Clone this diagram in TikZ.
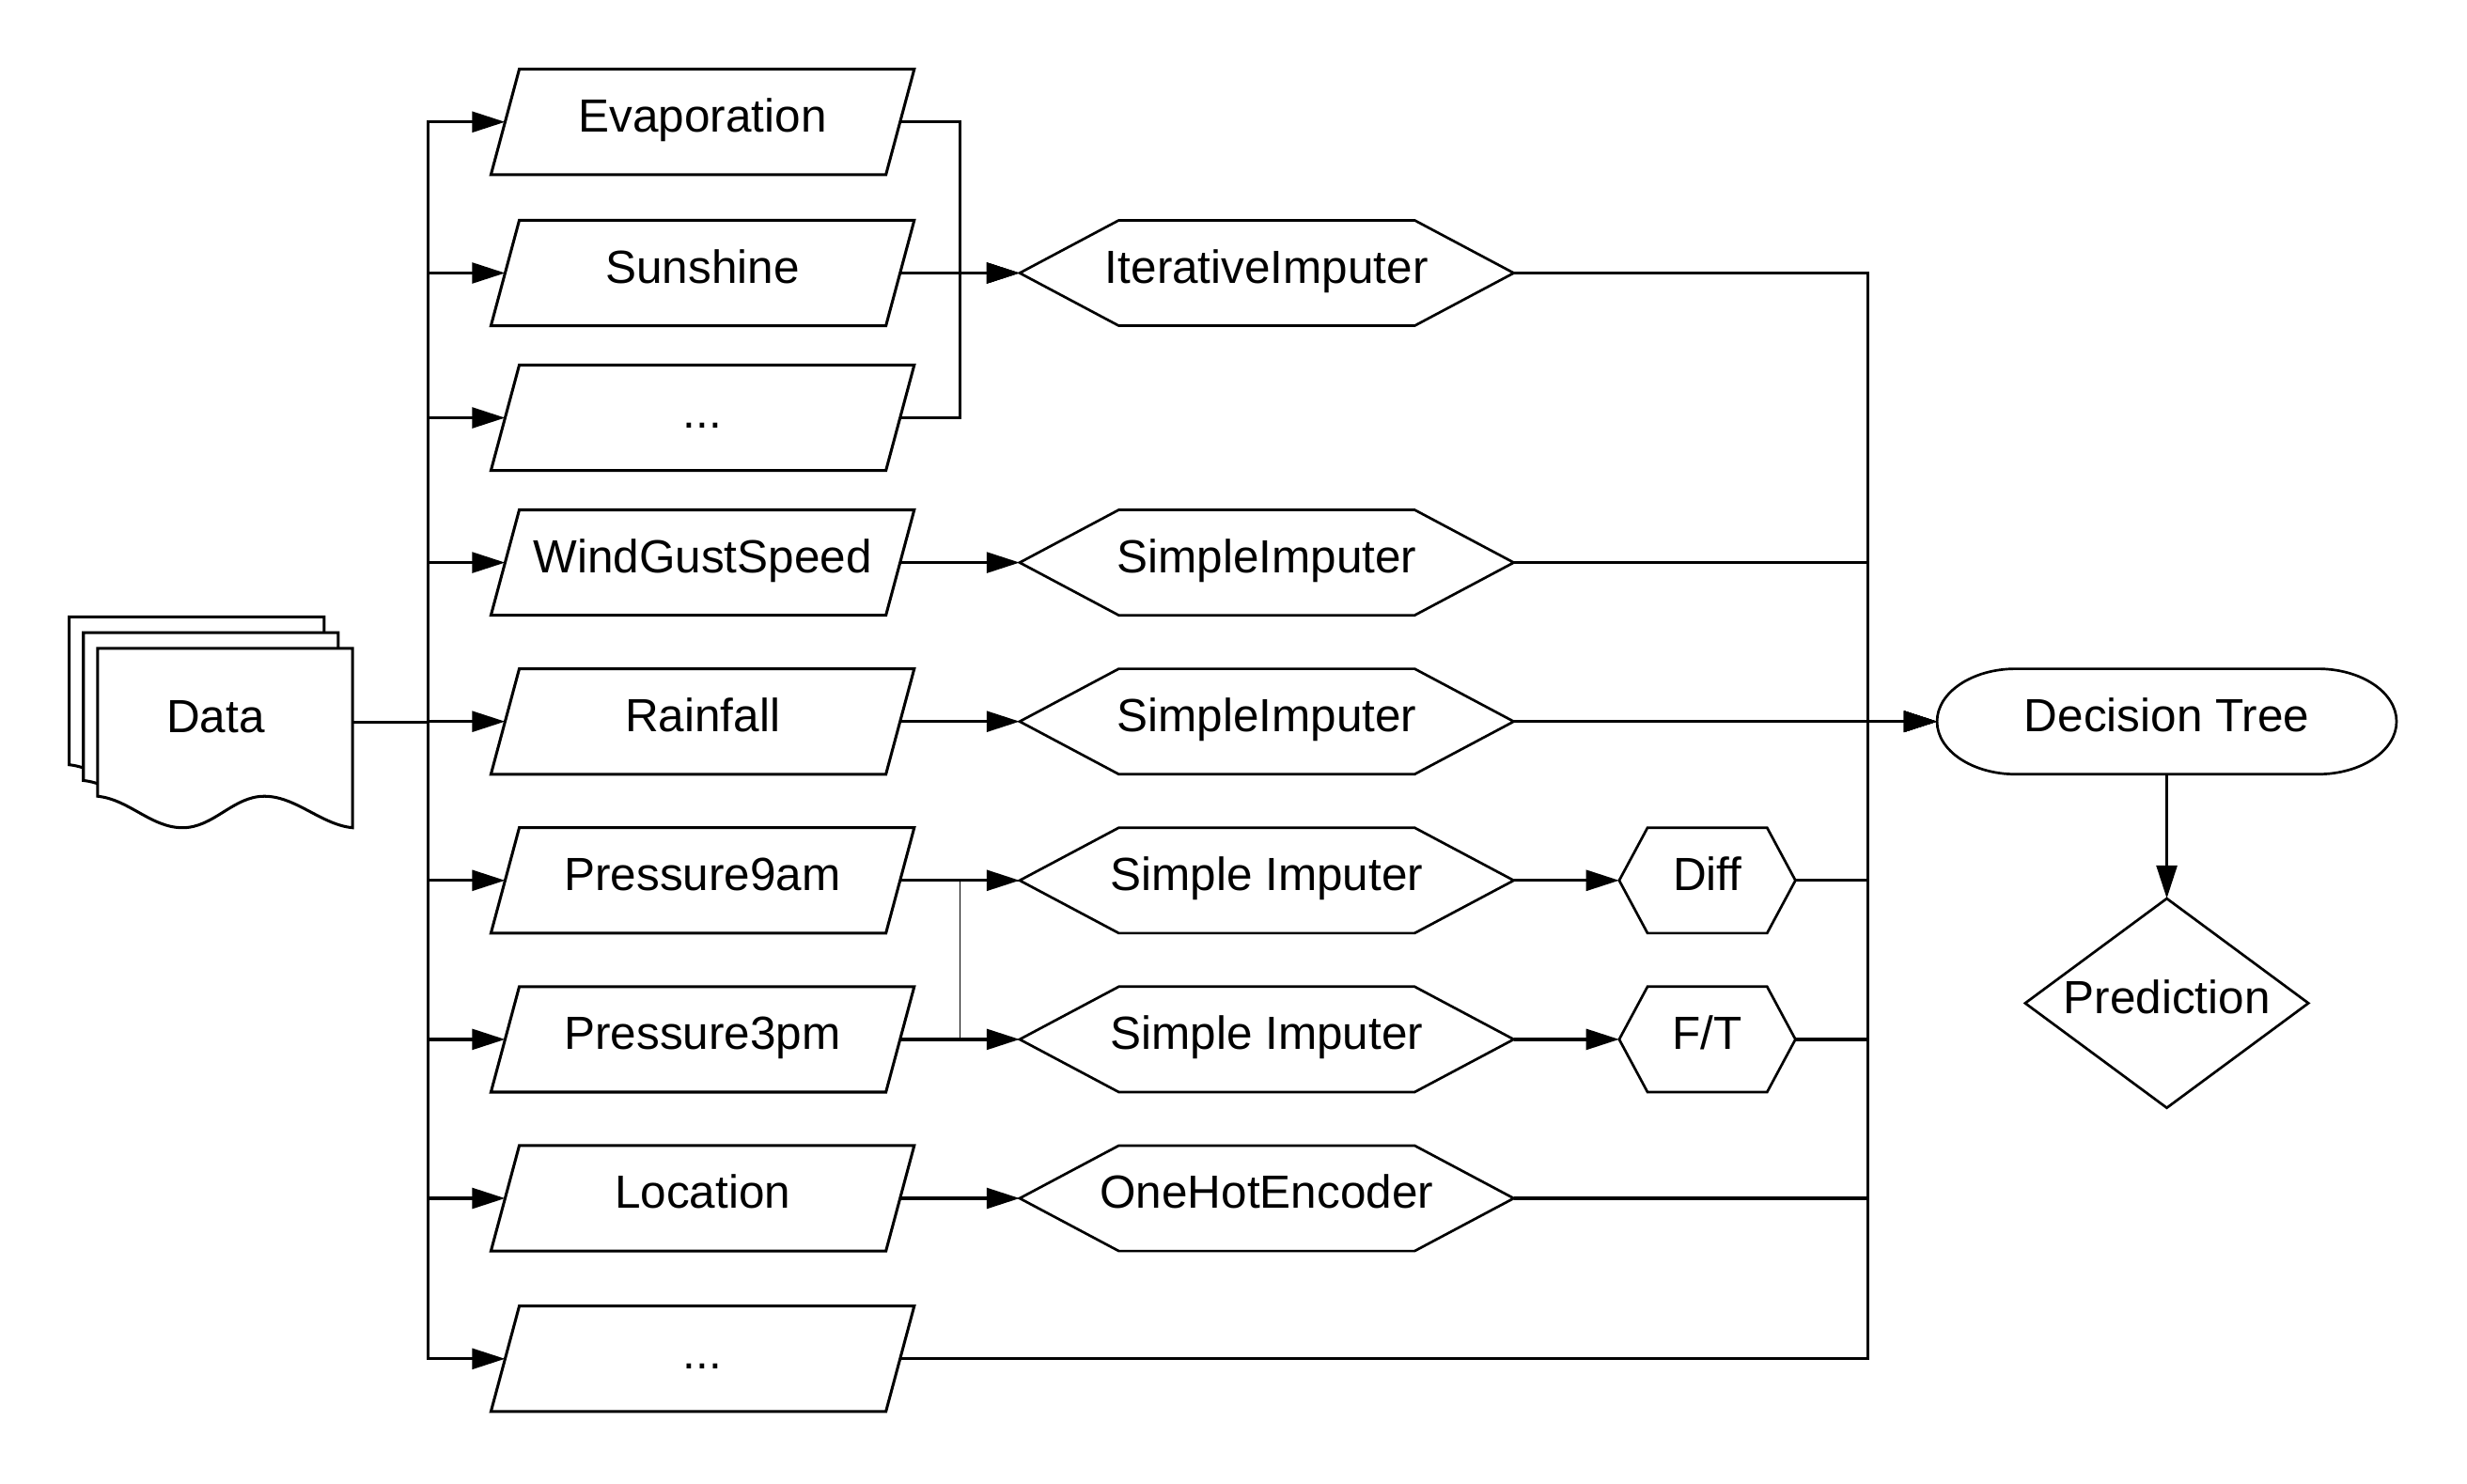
\documentclass[tikz,border=0pt]{standalone}
\usepackage{fontspec}
\setmainfont{Liberation Sans}
\usetikzlibrary{calc,arrows.meta,backgrounds}
\newcommand\U{0.4975pt}
\begin{document}
\begin{tikzpicture}[x=0.4975pt,y=-0.4975pt,
  font=\fontsize{14.7}{17}\selectfont,
  base/.style={inner sep=0pt, outer sep=0pt, minimum height=67*\U, text height=0.86em, text depth=0.21em},
  para/.style={base, minimum width=251*\U},
  hexa/.style={base, minimum width=314*\U},
  shex/.style={base, minimum width=112*\U},
  conn/.style={line width=1pt},
  thinconn/.style={line width=0.5pt},
  arr/.style={conn, -{Triangle[length=21*\U,width=13*\U]}},
  shp/.style={line width=0.9pt},
  shp2/.style={line width=0.8pt}]
\useasboundingbox (0,0) rectangle (1567.8,942.7);

% document stack
\node[base, minimum width=162*\U, minimum height=94*\U] (data) at (143,459) {Data\hspace*{6pt}};
\begin{scope}[on background layer]
\foreach \dx/\dy in {-18/-20,-9/-10,0/0}
  \draw[shp, fill=white] ($(data.south west)+(\dx,\dy)$) -- ($(data.north west)+(\dx,\dy)$)
    -- ($(data.north east)+(\dx,\dy)$) -- ($(data.south east)+(\dx,\dy+20)$)
    .. controls ($(data.south east)+(\dx-20,\dy+18)$) and ($(data.south east)+(\dx-36,\dy)$) .. ($(data.south east)+(\dx-56,\dy)$)
    .. controls ($(data.south east)+(\dx-76,\dy)$) and ($(data.south east)+(\dx-88,\dy+20)$) .. ($(data.south east)+(\dx-108,\dy+20)$)
    .. controls ($(data.south east)+(\dx-128,\dy+20)$) and ($(data.south east)+(\dx-142,\dy+2)$) .. ($(data.south west)+(\dx,\dy)$)
    -- cycle;
\end{scope}

% parallelograms
\node[para] (ev) at (446.5,77.5) {Evaporation};
\node[para] (su) at (446.5,173.5) {Sunshine};
\node[para] (d1) at (446.5,265.5) {...};
\node[para] (wg) at (446.5,357.5) {WindGustSpeed};
\node[para] (ra) at (446.5,458.5) {Rainfall};
\node[para] (p9) at (446.5,559.5) {Pressure9am};
\node[para] (p3) at (446.5,660.5) {Pressure3pm};
\node[para] (lo) at (446.5,761.5) {Location};
\node[para] (d2) at (446.5,863.5) {...};
\foreach \n in {ev,su,d1,wg,ra,p9,p3,lo,d2}
  \draw[shp] ($(\n.south west)+(-9,0)$) -- ($(\n.north west)+(9,0)$) -- ($(\n.north east)+(9,0)$) -- ($(\n.south east)+(-9,0)$) -- cycle;

% hexagons
\node[hexa] (it) at (805,173.5) {IterativeImputer};
\node[hexa] (s1) at (805,357.5) {SimpleImputer};
\node[hexa] (s2) at (805,458.5) {SimpleImputer};
\node[hexa] (si1) at (805,559.5) {Simple Imputer};
\node[hexa] (si2) at (805,660.5) {Simple Imputer};
\node[hexa] (oh) at (805,761.5) {OneHotEncoder};
\node[shex] (df) at (1085,559.5) {Diff};
\node[shex] (ft) at (1085,660.5) {F/T};
\foreach \n/\c in {it/63,s1/63,s2/63,si1/63,si2/63,oh/63,df/18,ft/18}
  \draw[shp2] (\n.west) -- ($(\n.north west)+(\c,0)$) -- ($(\n.north east)+(-\c,0)$) -- (\n.east)
    -- ($(\n.south east)+(-\c,0)$) -- ($(\n.south west)+(\c,0)$) -- cycle;

% decision tree and prediction
\node[base, minimum width=292*\U] (dt) at (1377,458.5) {Decision Tree};
\draw[shp2] ($(dt.north west)+(50,0)$) -- ($(dt.north east)+(-50,0)$)
  arc[start angle=90, end angle=-90, x radius=50*\U, y radius=33.5*\U]
  -- ($(dt.south west)+(50,0)$)
  arc[start angle=270, end angle=90, x radius=50*\U, y radius=33.5*\U] -- cycle;
\node[base, minimum width=180*\U, minimum height=133*\U] (pr) at (1377,637.5) {Prediction};
\draw[shp2] (pr.north) -- (pr.east) -- (pr.south) -- (pr.west) -- cycle;

% routing coordinates
\coordinate (trunk) at (272,0);
\coordinate (mg) at (610,0);
\coordinate (bus) at (1187,0);

% connectors
\foreach \n in {ev,su,d1,wg,ra,p9,p3,lo,d2}
  \draw[arr] (data.east) -- (data.east -| trunk) |- (\n.west);
\draw[arr] (ev.east) -- (ev.east -| mg) |- (it.west);
\draw[arr] (su.east) -- (it.west);
\draw[arr] (d1.east) -- (d1.east -| mg) |- (it.west);
\draw[arr] (wg.east) -- (s1.west);
\draw[arr] (ra.east) -- (s2.west);
\draw[arr] (p9.east) -- (si1.west);
\draw[arr] (p3.east) -- (si2.west);
\draw[thinconn] (p3.east) -- (p3.east -| mg) |- (si1.west);
\draw[arr] (lo.east) -- (oh.west);
\draw[arr] (si1.east) -- (df.west);
\draw[arr] (si2.east) -- (ft.west);
\foreach \n in {it,s1,df,ft,oh,d2}
  \draw[arr] (\n.east) -- (\n.east -| bus) |- (dt.west);
\draw[arr] (s2.east) -- (dt.west);
\draw[arr] (dt.south) -- (pr.north);
\end{tikzpicture}
\end{document}
